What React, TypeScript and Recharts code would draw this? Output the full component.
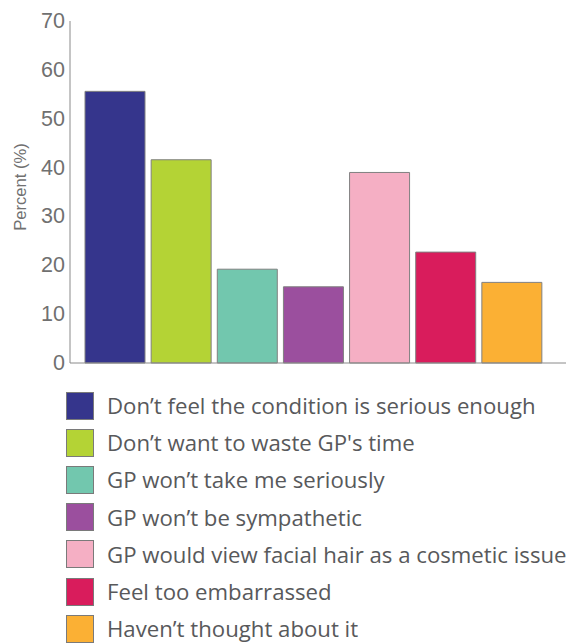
import React from 'react';
import { BarChart, Bar, Cell, XAxis, YAxis, Legend } from 'recharts';

const reasons = [
  'Don\u2019t feel the condition is serious enough',
  'Don\u2019t want to waste GP\'s time',
  'GP won\u2019t take me seriously',
  'GP won\u2019t be sympathetic',
  'GP would view facial hair as a cosmetic issue',
  'Feel too embarrassed',
  'Haven\u2019t thought about it',
];

const percents = [55.6, 41.6, 19.2, 15.6, 39.0, 22.7, 16.5];

const barColors = ['#35358c', '#b4d335', '#72c7ae', '#9b4f9e', '#f5afc4', '#d91c5c', '#fbb034'];

const yTicks = [0, 10, 20, 30, 40, 50, 60, 70];

const data = reasons.map((reason, i) => ({ reason, percent: percents[i] }));

const axisGrey = '#8a8a8a';
const textGrey = '#707070';

const YTitle = (props: any) => {
  const { viewBox } = props;
  const x = viewBox.x + 20.5;
  const y = viewBox.y + viewBox.height / 2 - 5;
  return (
    <text
      x={x}
      y={y}
      transform={`rotate(-90, ${x}, ${y})`}
      textAnchor="middle"
      dominantBaseline="central"
      fontFamily="'Liberation Sans', Arial, sans-serif"
      fontSize={16.6}
      fill={textGrey}
    >
      Percent (%)
    </text>
  );
};

// y tick labels drawn by hand so the font size sticks
const YTick = (props: any) => {
  const { x, y, payload } = props;
  return (
    <text
      x={x + 1}
      y={y}
      textAnchor="end"
      dominantBaseline="central"
      fontFamily="'Liberation Sans', Arial, sans-serif"
      fontSize={21.5}
      fill={textGrey}
    >
      {payload.value}
    </text>
  );
};

const ReasonLegend = () => (
  <div style={{ fontFamily: "'Open Sans', sans-serif", fontSize: 22.2, color: '#58595b' }}>
    {reasons.map((reason, i) => (
      <div key={reason} style={{ display: 'flex', alignItems: 'center', height: 37.2, whiteSpace: 'nowrap' }}>
        <span
          style={{
            display: 'inline-block',
            flex: 'none',
            width: 26,
            height: 26,
            marginLeft: 66,
            marginRight: 13,
            background: barColors[i],
            border: '1px solid #7a7a7a',
          }}
        />
        <span>{reason}</span>
      </div>
    ))}
  </div>
);

export default function App() {
  return (
    <div style={{ position: 'absolute', left: 0, top: 0, width: 566, height: 644, overflow: 'hidden', background: '#fff' }}>
      <BarChart
        width={566}
        height={644}
        data={data}
        margin={{ top: 21, right: 0, bottom: 251, left: 0 }}
      >
        <XAxis
          dataKey="reason"
          height={30}
          tick={false}
          tickLine={false}
          axisLine={{ stroke: axisGrey }}
          padding={{ left: 12, right: 21 }}
        />
        <YAxis
          width={70}
          domain={[0, 70]}
          ticks={yTicks}
          interval={0}
          tickLine={false}
          tickSize={4}
          tickMargin={2}
          axisLine={{ stroke: axisGrey }}
          tick={<YTick />}
          label={<YTitle />}
        />
        <Legend
          layout="vertical"
          align="center"
          verticalAlign="middle"
          wrapperStyle={{ left: 0, top: 387, width: 566 }}
          content={<ReasonLegend />}
        />
        <Bar dataKey="percent" barSize={60} stroke="#808080" strokeWidth={1} isAnimationActive={false}>
          {data.map((d, i) => (
            <Cell key={d.reason} fill={barColors[i]} />
          ))}
        </Bar>
      </BarChart>
    </div>
  );
}
